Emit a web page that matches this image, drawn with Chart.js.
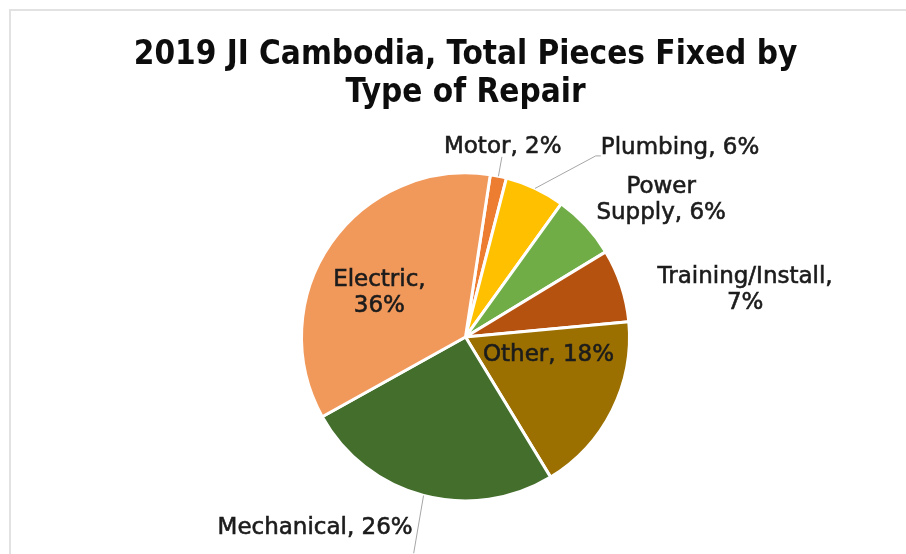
<!DOCTYPE html>
<html>
<head>
<meta charset="utf-8">
<script src="https://cdn.jsdelivr.net/npm/chart.js@4.4.1/dist/chart.umd.min.js"></script>
<style>
  html, body { margin: 0; padding: 0; background: #fff; overflow: hidden; }
  #frame { position: absolute; left: 9px; top: 9px; width: 940px; height: 560px;
           border-top: 2px solid #e2e2e2; border-left: 2px solid #e2e2e2; }
  #wrap { position: absolute; left: 0; top: 0; width: 909px; height: 543px; }
</style>
</head>
<body>
<div id="frame"><div id="wrap"><canvas id="pie"></canvas></div></div>
<script>
// data, in slice order clockwise from the top
const categories = ['Motor', 'Plumbing', 'Power Supply', 'Training/Install', 'Other', 'Mechanical', 'Electric'];
const shares = [1.6, 5.9, 6.4, 7.2, 17.8, 25.6, 35.5];
const sliceColors = ['#ED7D31', '#FFC000', '#70AD47', '#B5520F', '#9B7000', '#446E2C', '#F1985B'];
const titleLines = ['2019 JI Cambodia, Total Pieces Fixed by', 'Type of Repair'];

// where each label sits, in pie radii from the centre; wrap: where the text breaks
const labelSpots = [
  { x: 0.227, y: -1.160, align: 'center', leader: [[0.222, -1.098]] },
  { x: 0.825, y: -1.153, align: 'left', leader: [[0.794, -1.104], [0.825, -1.104]] },
  { x: 1.193, y: -0.833, align: 'center', wrap: 'space' },
  { x: 1.705, y: -0.288, align: 'center', wrap: 'comma' },
  { x: 0.506, y: 0.113, align: 'center' },
  { x: -0.322, y: 1.166, align: 'right', leader: [[-0.316, 1.319]] },
  { x: -0.525, y: -0.267, align: 'center', wrap: 'comma' },
];

const total = shares.reduce((a, b) => a + b, 0);

function labelLines(i) {
  const pct = Math.round(shares[i] / total * 100) + '%';
  const wrap = labelSpots[i].wrap;
  if (wrap === 'comma') return [categories[i] + ',', pct];
  if (wrap === 'space') {
    const parts = categories[i].split(' ');
    return [parts[0], parts.slice(1).join(' ') + ', ' + pct];
  }
  return [categories[i] + ', ' + pct];
}

const labelPlugin = {
  id: 'sliceLabels',
  afterDatasetsDraw(chart) {
    const ctx = chart.ctx;
    const arcs = chart.getDatasetMeta(0).data;
    ctx.save();
    arcs.forEach((arc, i) => {
      const { x, y, outerRadius, startAngle, endAngle } = arc.getProps(['x', 'y', 'outerRadius', 'startAngle', 'endAngle'], true);
      const r = outerRadius;
      const spot = labelSpots[i];
      if (spot.leader) {
        const mid = (startAngle + endAngle) / 2;
        ctx.beginPath();
        ctx.moveTo(x + r * Math.cos(mid), y + r * Math.sin(mid));
        spot.leader.forEach(p => ctx.lineTo(x + p[0] * r, y + p[1] * r));
        ctx.strokeStyle = '#a6a6a6';
        ctx.lineWidth = 1;
        ctx.stroke();
      }
      const lines = labelLines(i);
      const lh = 26;
      ctx.font = '23px "DejaVu Sans", sans-serif';
      ctx.fillStyle = '#1c1c1c';
      ctx.strokeStyle = '#1c1c1c';
      ctx.lineWidth = 0.6;
      ctx.textAlign = spot.align;
      ctx.textBaseline = 'middle';
      const ly = y + spot.y * r - (lines.length - 1) * lh / 2;
      lines.forEach((t, k) => {
        ctx.fillText(t, x + spot.x * r, ly + k * lh);
        ctx.strokeText(t, x + spot.x * r, ly + k * lh);
      });
    });
    ctx.restore();
  }
};

new Chart(document.getElementById('pie'), {
  type: 'pie',
  data: {
    labels: categories,
    datasets: [{
      data: shares,
      backgroundColor: sliceColors,
      borderColor: '#ffffff',
      borderWidth: 3,
      radius: 164,
    }]
  },
  options: {
    responsive: true,
    maintainAspectRatio: false,
    animation: false,
    rotation: 8.7,
    layout: { padding: { bottom: 54 } },
    plugins: {
      legend: { display: false },
      tooltip: { enabled: false },
      title: {
        display: true,
        text: titleLines,
        color: '#0d0d0d',
        font: { family: '"DejaVu Sans Condensed", "DejaVu Sans", sans-serif', size: 33, weight: 'bold', lineHeight: 1.15 },
        padding: { top: 25, bottom: 62 },
      },
    },
  },
  plugins: [labelPlugin],
});
</script>
</body>
</html>
